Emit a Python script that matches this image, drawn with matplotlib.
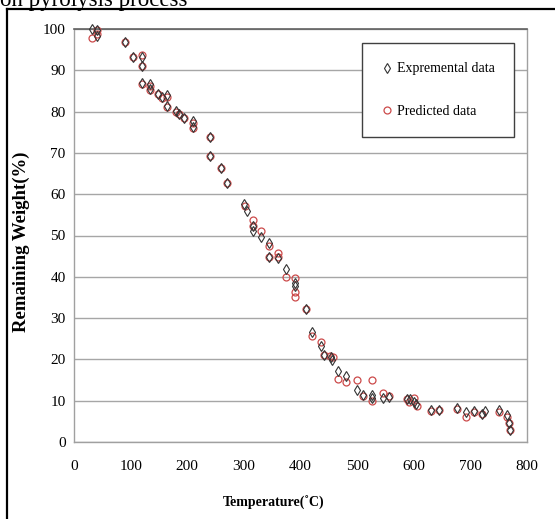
import matplotlib
matplotlib.use("Agg")
import matplotlib.pyplot as plt
from matplotlib.lines import Line2D

plt.rcParams['font.family'] = ['Liberation Serif', 'DejaVu Serif']

# Experimental data (temperature °C, remaining weight %)
exp_T = [32, 40, 40, 90, 105, 119.5, 119.5, 119.5, 134, 134, 149, 155, 165, 165,
         179.5, 185, 195, 209.6, 209.6, 240, 240, 260, 269.6, 301, 306, 315.5,
         315.5, 330, 345, 345, 359.7, 374.4, 390, 390, 409.7, 421, 435.6, 441,
         453, 456, 466, 480, 500.5, 511, 525.7, 525.7, 546, 556, 587.5, 593,
         601, 604, 630, 645, 677, 692, 707, 721, 726, 750.5, 765, 768, 770]
exp_W = [100, 99.8, 98.4, 96.9, 93.3, 93.3, 91.1, 87.0, 86.6, 85.4, 84.3, 83.6,
         83.9, 81.4, 80.1, 79.4, 78.4, 77.7, 76.3, 73.9, 69.3, 66.4, 62.8, 57.7,
         55.9, 52.4, 51.2, 49.6, 48.1, 44.7, 44.5, 41.9, 38.6, 37.8, 32.1, 26.7,
         23.3, 21.0, 20.7, 19.9, 17.1, 15.9, 12.6, 11.3, 11.4, 10.6, 10.7, 11.0,
         10.5, 10.3, 9.8, 9.2, 7.7, 7.7, 8.2, 7.3, 7.5, 6.9, 7.5, 7.7, 6.5, 4.5, 2.9]

# Predicted data
pred_T = [31, 40, 40, 90, 105, 119.5, 119.5, 119.5, 134, 134, 149, 155, 165, 165,
          179.5, 185, 195, 209.6, 209.6, 240, 240, 260, 269.6, 302, 315.5, 315.5,
          330, 345, 345, 359.7, 359.7, 374.4, 390, 390, 390, 409.7, 421, 435.6,
          441, 452, 457, 466, 480, 500.5, 511, 525.7, 525.7, 546, 556, 587.5,
          591.6, 601, 605, 630, 645, 677, 692, 707, 721, 750.5, 765, 768, 770]
pred_W = [97.9, 99.8, 98.8, 96.9, 93.3, 93.6, 91.1, 86.8, 86.3, 85.2, 84.3, 83.4,
          83.5, 81.0, 80.0, 79.4, 78.4, 77.3, 76.0, 73.9, 69.3, 66.4, 62.6, 57.1,
          53.8, 52.3, 51.2, 47.4, 44.7, 45.7, 44.7, 40.0, 39.6, 36.2, 35.2, 32.1,
          25.6, 24.2, 21.0, 20.9, 20.7, 15.3, 14.5, 15.1, 11.2, 14.9, 9.9, 11.8,
          11.2, 10.3, 9.8, 10.6, 8.6, 7.5, 7.7, 8.1, 6.0, 7.2, 6.9, 7.2, 6.1, 4.5, 3.0]

x_ticks = [0, 100, 200, 300, 400, 500, 600, 700, 800]
y_ticks = [0, 10, 20, 30, 40, 50, 60, 70, 80, 90, 100]

W, H = 555, 519
fig = plt.figure(figsize=(W / 100, H / 100), dpi=100)
ax = fig.add_axes([74 / W, (H - 442) / H, (527 - 74) / W, (442 - 29) / H])

ax.set_xlim(0, 800)
ax.set_ylim(0, 100)
ax.set_xticks(x_ticks)
ax.set_yticks(y_ticks)
ax.tick_params(axis='both', length=0, labelsize=11)
ax.tick_params(axis='x', pad=13)
ax.tick_params(axis='y', pad=6)

ax.grid(axis='y', color='#a6a6a6', linewidth=1.0)
ax.set_axisbelow(True)
for side in ['left', 'bottom', 'right']:
    ax.spines[side].set_color('#a0a0a0')
    ax.spines[side].set_linewidth(1.0)
ax.spines['top'].set_color('#606060')
ax.spines['top'].set_linewidth(1.2)

red = '#cc4a4a'
dark = '#333333'
ax.plot(pred_T, pred_W, linestyle='none', marker='o', markersize=5,
        markerfacecolor='none', markeredgecolor=red, markeredgewidth=0.9,
        clip_on=False, zorder=3)
ax.plot(exp_T, exp_W, linestyle='none', marker='d', markersize=5.5,
        markerfacecolor='none', markeredgecolor=dark, markeredgewidth=0.8,
        clip_on=False, zorder=4)

handles = [
    Line2D([], [], linestyle='none', marker='d', markersize=5.5,
           markerfacecolor='none', markeredgecolor=dark, markeredgewidth=0.8),
    Line2D([], [], linestyle='none', marker='o', markersize=5,
           markerfacecolor='none', markeredgecolor=red, markeredgewidth=0.9),
]
leg = ax.legend(handles, ['Expremental data', 'Predicted data'],
                loc='upper left', bbox_to_anchor=(0.636, 0.966),
                fontsize=10, frameon=True, fancybox=False, framealpha=1,
                edgecolor='#404040', handlelength=0.8, handletextpad=0.3,
                borderpad=1.4, labelspacing=2.1, borderaxespad=0)
leg.get_frame().set_linewidth(1.0)
leg.set_zorder(5)

ax.set_xlabel('Temperature(˚C)', fontsize=10, fontweight='bold', va='center')
ax.xaxis.set_label_coords(0.4415, (442 - 503) / 413)
ax.set_ylabel('Remaining Weight(%)', fontsize=13.5, fontweight='bold', va='center')
ax.yaxis.set_label_coords((21 - 74) / 453, 0.485)

# partially visible caption and frame lines at the top/left of the crop
fig.text(0.0, 1 - 6 / H, 'on pyrolysis process', fontsize=16.5, va='baseline', ha='left')
fig.add_artist(Line2D([7 / W, 1.0], [1 - 9 / H, 1 - 9 / H], color='black',
                      linewidth=1.6, transform=fig.transFigure))
fig.add_artist(Line2D([7 / W, 7 / W], [0.0, 1 - 9 / H], color='black',
                      linewidth=1.6, transform=fig.transFigure))

fig.savefig('out.png', dpi=100)
